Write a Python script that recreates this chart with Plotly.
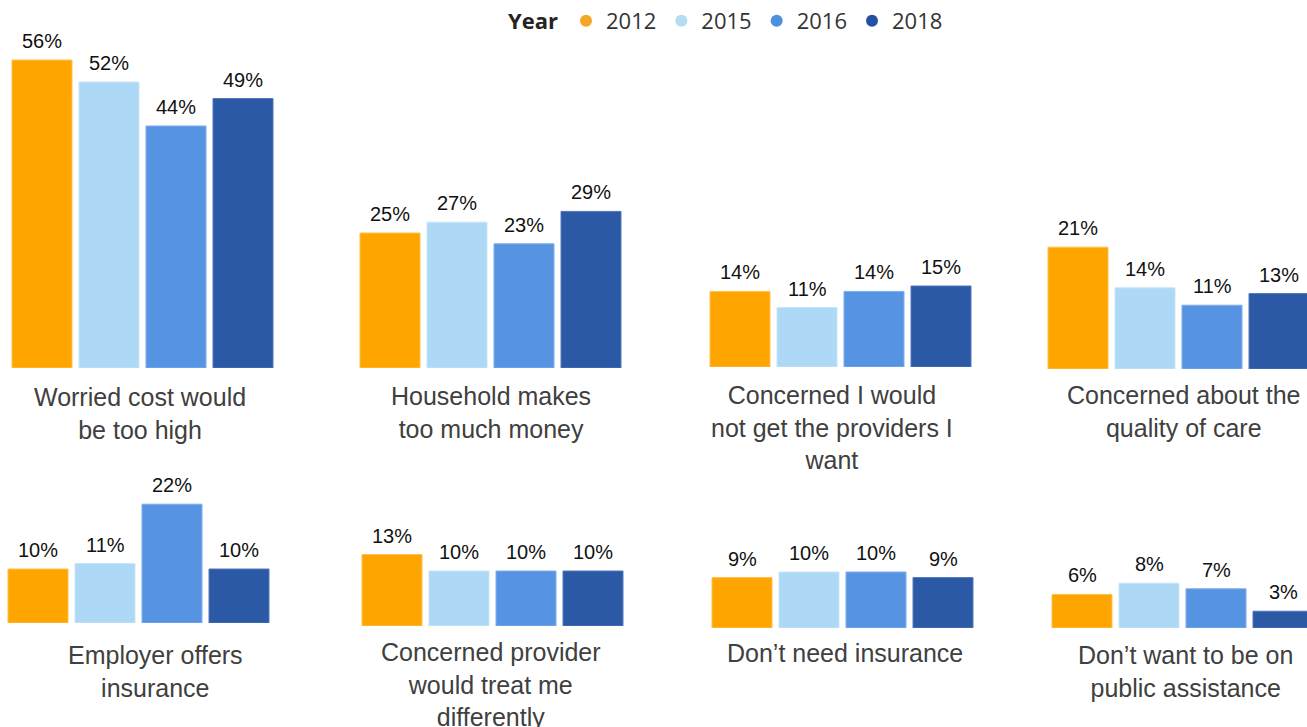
import plotly.graph_objects as go

W, H = 1307, 727

# ---- data -------------------------------------------------------------
years = ["2012", "2015", "2016", "2018"]
reasons = [
    "Worried cost would<br>be too high",
    "Household makes<br>too much money",
    "Concerned I would<br>not get the providers I<br>want",
    "Concerned about the<br>quality of care",
    "Employer offers<br>insurance",
    "Concerned provider<br>would treat me<br>differently",
    "Don’t need insurance",
    "Don’t want to be on<br>public assistance",
]
pct_2012 = [56, 25, 14, 21, 10, 13, 9, 6]
pct_2015 = [52, 27, 11, 14, 11, 10, 10, 8]
pct_2016 = [44, 23, 14, 11, 22, 10, 10, 7]
pct_2018 = [49, 29, 15, 13, 10, 10, 9, 3]
series = [pct_2012, pct_2015, pct_2016, pct_2018]

# ---- styling / layout -------------------------------------------------
bar_colors = ["#FFA500", "#ADD8F6", "#5793E3", "#2B59A6"]
edge_colors = ["#FFC14D", "#C9E5F9", "#7FAEEA", "#4F78BC"]
dot_colors = ["#F5A623", "#B4DCF3", "#4E8FE0", "#2350A5"]

SLOT = 67.0          # px per category slot
BAR_W = 60.0 / SLOT  # bar width in data units

# per panel: left px of first slot, right px of plot area, baseline px, top px, px per percent
panels = [
    (8.5, 275.5, 368, 25, 5.5),
    (356.5, 623.5, 368, 25, 5.4),
    (706.5, 973.5, 367, 25, 5.4),
    (1044.5, 1307, 369, 25, 5.8),
    (4.5, 271.5, 623, 470, 5.4),
    (358.5, 625.5, 626, 470, 5.5),
    (708.5, 975.5, 628, 470, 5.6),
    (1048.5, 1307, 628, 470, 5.6),
]
# title centre x, first-line centre y (px)
title_pos = [
    (140, 397), (491, 396), (832, 395), (1184, 395),
    (155, 655), (491, 652), (845, 653), (1185, 655),
]

LABEL_FONT = dict(family="Liberation Sans, Arial, sans-serif", size=20, color="#111111")
TITLE_FONT = dict(family="Liberation Sans, Arial, sans-serif", size=25, color="#404040")

fig = go.Figure()
layout = {}
annotations = []

for p, (left, right, base, top, scale) in enumerate(panels):
    n = p + 1
    xa = "x" if n == 1 else f"x{n}"
    ya = "y" if n == 1 else f"y{n}"
    xkey = "xaxis" if n == 1 else f"xaxis{n}"
    ykey = "yaxis" if n == 1 else f"yaxis{n}"

    layout[xkey] = dict(
        domain=[left / W, min(right, W) / W],
        range=[-0.5, -0.5 + (min(right, W) - left) / SLOT],
        visible=False, fixedrange=True, anchor=ya,
    )
    layout[ykey] = dict(
        domain=[1 - base / H, 1 - top / H],
        range=[0, (base - top) / scale],
        visible=False, fixedrange=True, anchor=xa,
    )

    for k, yr in enumerate(years):
        val = series[k][p]
        fig.add_trace(go.Bar(
            x=[k], y=[val], width=BAR_W,
            marker=dict(color=bar_colors[k], line=dict(color=edge_colors[k], width=1)),
            xaxis=xa, yaxis=ya, showlegend=False, hoverinfo="skip",
            name=yr, legendgroup=yr,
        ))
        annotations.append(dict(
            x=k, y=val, xref=xa, yref=ya, text=f"{val}%",
            showarrow=False, yanchor="bottom", yshift=6, font=LABEL_FONT,
        ))

    tx, ty = title_pos[p]
    annotations.append(dict(
        x=tx / W, y=1 - (ty - 16) / H, xref="paper", yref="paper",
        text=reasons[p], showarrow=False, xanchor="center", yanchor="top",
        align="center", font=TITLE_FONT,
    ))

# legend entries drawn as round markers
for k, yr in enumerate(years):
    fig.add_trace(go.Scatter(
        x=[None], y=[None], mode="markers", name=yr, legendgroup=yr,
        marker=dict(color=dot_colors[k], size=12, symbol="circle"),
        showlegend=True,
    ))

fig.update_layout(
    width=W, height=H,
    margin=dict(l=0, r=0, t=0, b=0),
    paper_bgcolor="white", plot_bgcolor="white",
    barmode="group",
    annotations=annotations,
    legend=dict(
        orientation="h", x=506 / W, y=1, xanchor="left", yanchor="top",
        title=dict(text="<b>Year</b>", side="left",
                   font=dict(family="Open Sans, sans-serif", size=22, color="#252423")),
        font=dict(family="Open Sans, sans-serif", size=22, color="#333333"),
        itemwidth=30, tracegroupgap=0, bgcolor="rgba(0,0,0,0)",
    ),
    **layout,
)

fig.write_html("out.html")
